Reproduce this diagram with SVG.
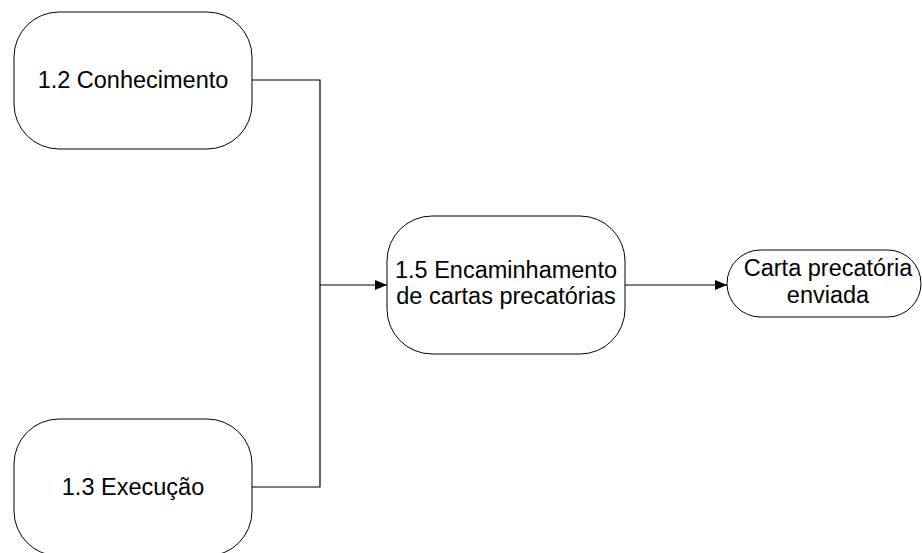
<svg xmlns="http://www.w3.org/2000/svg" width="922" height="553" viewBox="0 0 922 553">
<style>
.n{fill:#fff;stroke:#000;stroke-width:1}
.t{font-family:"Liberation Sans",Arial,sans-serif;font-size:23.5px;fill:#000;text-anchor:middle}
.c{fill:none;stroke:#000;stroke-width:1.2}
</style>
<defs>
<marker id="ah" markerWidth="12" markerHeight="10" refX="12" refY="5" orient="auto" markerUnits="userSpaceOnUse">
<path d="M0,0 L12,5 L0,10 Z" fill="#000"/>
</marker>
</defs>
<rect width="922" height="553" fill="#fff"/>
<g id="connectors">
<path class="c" d="M252,80 H320 V487 H252"/>
<path class="c" d="M320,285 H387" marker-end="url(#ah)"/>
<path class="c" d="M625,285 H727" marker-end="url(#ah)"/>
</g>
<g id="n12">
<rect class="n" x="14" y="12" width="238" height="137" rx="45" ry="45"/>
<text class="t" x="133" y="88">1.2 Conhecimento</text>
</g>
<g id="n13">
<rect class="n" x="14" y="419" width="238" height="137" rx="45" ry="45"/>
<text class="t" x="133" y="495">1.3 Execução</text>
</g>
<g id="n15">
<rect class="n" x="387" y="216" width="238" height="138" rx="45" ry="45"/>
<text class="t" x="506" y="278">1.5 Encaminhamento</text>
<text class="t" x="506" y="304">de cartas precatórias</text>
</g>
<g id="nfim">
<rect class="n" x="727" y="250" width="194" height="67" rx="33.5" ry="33.5"/>
<text class="t" x="828" y="276">Carta precatória</text>
<text class="t" x="828" y="303">enviada</text>
</g>
</svg>
